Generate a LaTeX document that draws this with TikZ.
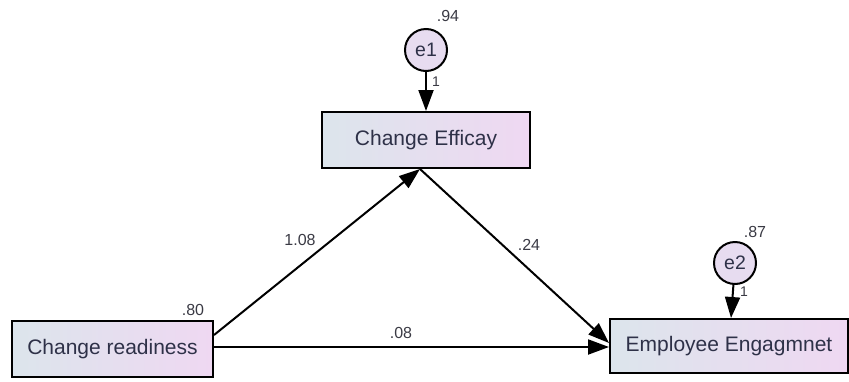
\documentclass[tikz,border=0pt]{standalone}
\usepackage{fontspec}
\setmainfont{Liberation Sans}
\usetikzlibrary{arrows.meta}
\definecolor{txt}{HTML}{2E3148}
\definecolor{lbl}{HTML}{3A3A44}
\definecolor{boxl}{HTML}{DCE5EC}
\definecolor{boxr}{HTML}{EFD8F2}
\definecolor{errfill}{HTML}{E7DCF0}
\tikzset{
  obs/.style={draw=black, line width=2pt, left color=boxl, right color=boxr,
    inner sep=0pt, text=txt, font=\fontsize{21}{24}\selectfont},
  err/.style={circle, draw=black, line width=2pt, fill=errfill, inner sep=0pt,
    minimum size=42pt, text=txt, font=\fontsize{19.5}{22}\selectfont},
  path/.style={line width=2pt, -{Triangle[length=21pt,width=15pt]}},
  coef/.style={text=lbl, inner sep=0pt, font=\fontsize{16}{18}\selectfont},
  fix/.style={text=lbl, inner sep=0pt, font=\fontsize{14}{16}\selectfont}
}
\begin{document}
\begin{tikzpicture}[x=1pt,y=-1pt]
\useasboundingbox (0,0) rectangle (849,381);
% observed variables
\node[obs, minimum width=208pt, minimum height=56pt] (ce) at (426,140) {Change Efficay};
\node[obs, minimum width=201pt, minimum height=56pt] (cr) at (112.5,349) {Change readiness};
\node[obs, minimum width=238pt, minimum height=54pt] (ee) at (729,346) {Employee Engagmnet};
% error terms
\node[err] (e1) at (426,50) {e1};
\node[err] (e2) at (735,263) {e2};
% regression paths
\draw[path] (e1) -- (ce);
\draw[path] (e2) -- (ee);
\draw[path] ([yshift=14pt]cr.east) -- ([xshift=-6pt]ce.south);
\draw[path] ([xshift=-6pt]ce.south) -- ([yshift=3pt]ee.west);
\draw[path] ([yshift=2pt]cr.east) -- ([yshift=2pt]cr.east -| ee.west);
% estimates
\node[coef] (v1) at (448,16) {.94};
\node[coef] (v2) at (755,232) {.87};
\node[coef] (v3) at (193,310) {.80};
\node[fix] (f1) at (436,82) {1};
\node[fix] (f2) at (744,292) {1};
\node[coef] (b1) at (300,240) {1.08};
\node[coef] (b2) at (529,245) {.24};
\node[coef] (b3) at (401,333) {.08};
\end{tikzpicture}
\end{document}
